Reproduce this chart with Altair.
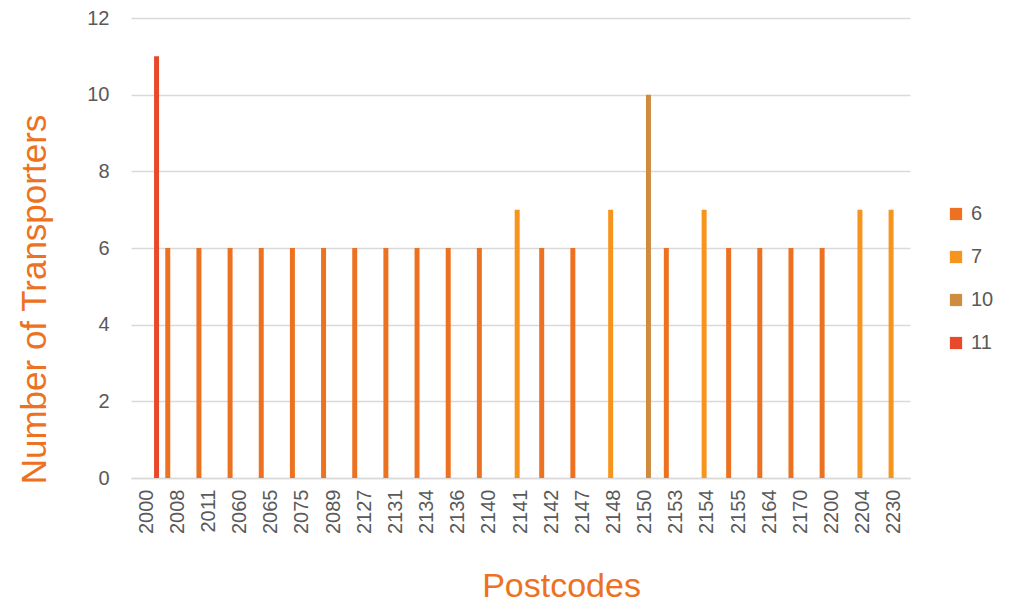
import altair as alt
import pandas as pd

postcodes = ["2000", "2008", "2011", "2060", "2065", "2075", "2089", "2127", "2131",
             "2134", "2136", "2140", "2141", "2142", "2147", "2148", "2150", "2153",
             "2154", "2155", "2164", "2170", "2200", "2204", "2230"]
transporters = [11, 6, 6, 6, 6, 6, 6, 6, 6, 6, 6, 6, 7, 6, 6, 7, 10, 6, 7, 6, 6, 6, 6, 7, 7]
series = ["6", "7", "10", "11"]
series_colors = ["#EC7222", "#F7941E", "#CF8B3E", "#E8492A"]

df = pd.DataFrame({"Postcode": postcodes, "Value": transporters,
                   "Series": [str(v) for v in transporters]})

font = "Liberation Sans"
grey = "#595959"
orange = "#EC7222"

chart = alt.Chart(df).mark_bar().encode(
    x=alt.X("Postcode:N", sort=postcodes,
            scale=alt.Scale(paddingInner=0.2, paddingOuter=0.1),
            axis=alt.Axis(title="Postcodes", labelAngle=-90, labelAlign="right",
                          labelBaseline="middle", labelFontSize=20, labelColor=grey,
                          labelPadding=11, ticks=False, domainColor="#D9D9D9",
                          domainWidth=1.5, titleFontSize=34, titleColor=orange,
                          titleFontWeight="normal", titleX=430, titleY=108,
                          titleAlign="center", titleBaseline="middle")),
    xOffset=alt.XOffset("Series:N", sort=series,
                        scale=alt.Scale(domain=series, paddingInner=0.25, paddingOuter=0)),
    y=alt.Y("Value:Q", scale=alt.Scale(domain=[0, 12]),
            axis=alt.Axis(title="Number of Transporters", values=[0, 2, 4, 6, 8, 10, 12],
                          labelFontSize=20, labelColor=grey, labelPadding=22,
                          ticks=False, domain=False, gridColor="#D9D9D9", gridWidth=1.5,
                          titleFontSize=35, titleColor=orange, titleFontWeight="normal",
                          titleX=-97, titleY=281, titleAngle=-90, titleAlign="center",
                          titleBaseline="middle")),
    color=alt.Color("Series:N", sort=series,
                    scale=alt.Scale(domain=series, range=series_colors),
                    legend=alt.Legend(title=None, orient="none", legendX=815, legendY=186,
                                      symbolType="square", symbolSize=150,
                                      symbolStrokeWidth=0, labelFontSize=20,
                                      labelColor=grey, rowPadding=23, labelOffset=5)),
).properties(
    width=779, height=460,
    autosize=alt.AutoSizeParams(type="none"),
    padding={"left": 123, "top": 10, "right": 91, "bottom": 126},
).configure(font=font).configure_view(stroke=None)

chart.save("out.html", embed_options={"renderer": "svg", "actions": False})
